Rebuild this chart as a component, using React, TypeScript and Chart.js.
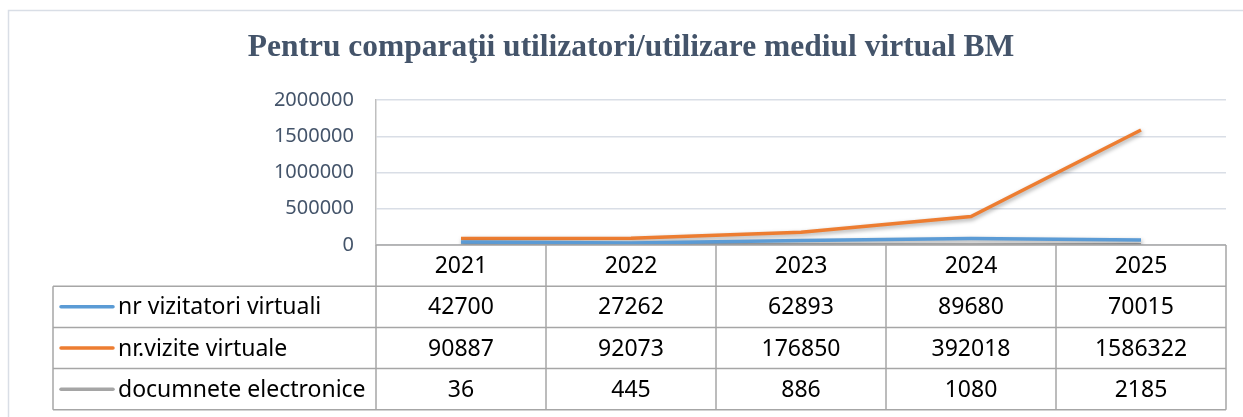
import React, { useEffect, useRef } from "react";
import { Chart, registerables } from "chart.js";

Chart.register(...registerables);

const TITLE = "Pentru comparaţii utilizatori/utilizare mediul virtual BM";
const YEARS = ["2021", "2022", "2023", "2024", "2025"];
const VIZITATORI = [42700, 27262, 62893, 89680, 70015];
const VIZITE = [90887, 92073, 176850, 392018, 1586322];
const DOCUMENTE = [36, 445, 886, 1080, 2185];
const SERIES_NAMES = ["nr vizitatori virtuali", "nr.vizite virtuale", "documnete electronice"];
const COLORS = ["#5b9bd5", "#ed7d31", "#a5a5a5"];
const Y_MAX = 2000000;
const Y_STEP = 500000;

const FONT = "'Noto Sans', 'Open Sans', 'Liberation Sans', sans-serif";

export default function App() {
  const ref = useRef<HTMLCanvasElement | null>(null);

  useEffect(() => {
    document.body.style.margin = "0";
    const canvas = ref.current!;
    const series = [VIZITATORI, VIZITE, DOCUMENTE];

    const shadowPlugin = {
      id: "shadow",
      beforeDatasetDraw(chart: any) {
        const c = chart.ctx;
        c.save();
        c.shadowColor = "rgba(0,0,0,0.35)";
        c.shadowBlur = 4;
        c.shadowOffsetX = 1;
        c.shadowOffsetY = 2;
      },
      afterDatasetDraw(chart: any) {
        chart.ctx.restore();
      },
    };

    const decorPlugin = {
      id: "decor",
      beforeDraw(chart: any) {
        const c = chart.ctx;
        c.save();
        c.fillStyle = "#ffffff";
        c.fillRect(0, 0, chart.width, chart.height);
        // outer frame
        c.strokeStyle = "#d9dee6";
        c.lineWidth = 1.5;
        c.beginPath();
        c.moveTo(8.5, chart.height + 2);
        c.lineTo(8.5, 10.5);
        c.lineTo(chart.width + 2, 10.5);
        c.stroke();
        // title
        c.fillStyle = "#44546a";
        c.font = "bold 31.5px 'Liberation Serif', 'Times New Roman', serif";
        c.textAlign = "center";
        c.textBaseline = "alphabetic";
        c.fillText(TITLE, 631, 56);
        c.restore();
      },
      afterDraw(chart: any) {
        const c = chart.ctx;
        const xs = chart.scales.x;
        const area = chart.chartArea;
        const left = area.left;
        const right = area.right;
        const n = YEARS.length;
        const colW = (right - left) / n;
        const top = area.bottom;
        const rowH = 41.2;
        const legLeft = 53;
        c.save();
        c.strokeStyle = "#a6a6a6";
        c.lineWidth = 1.5;
        // horizontal lines
        c.beginPath();
        c.moveTo(left, top);
        c.lineTo(right, top);
        for (let r = 1; r <= 4; r++) {
          const y = top + r * rowH;
          c.moveTo(legLeft, y);
          c.lineTo(right, y);
        }
        // vertical lines
        c.moveTo(legLeft, top + rowH);
        c.lineTo(legLeft, top + 4 * rowH);
        for (let i = 0; i <= n; i++) {
          const x = left + i * colW;
          c.moveTo(x, top);
          c.lineTo(x, top + 4 * rowH);
        }
        c.stroke();
        // text
        c.fillStyle = "#000000";
        c.font = `23px ${FONT}`;
        c.textBaseline = "middle";
        c.textAlign = "center";
        YEARS.forEach((yr, i) => {
          const x = xs.getPixelForValue(i);
          c.fillText(yr, x, top + rowH / 2 + 1);
          series.forEach((s, r) => {
            c.fillText(String(s[i]), x, top + (r + 1.5) * rowH + 1);
          });
        });
        // legend column
        c.textAlign = "left";
        SERIES_NAMES.forEach((name, r) => {
          const y = top + (r + 1.5) * rowH;
          c.strokeStyle = COLORS[r];
          c.lineWidth = 3.5;
          c.lineCap = "round";
          c.beginPath();
          c.moveTo(61, y);
          c.lineTo(113, y);
          c.stroke();
          c.fillStyle = "#000000";
          c.fillText(name, 118, y + 1);
        });
        c.restore();
      },
    };

    const chart = new Chart(canvas, {
      type: "line",
      data: {
        labels: YEARS,
        datasets: [
          { label: SERIES_NAMES[0], data: VIZITATORI, borderColor: COLORS[0], backgroundColor: COLORS[0], borderWidth: 3.5, pointRadius: 0, tension: 0 },
          { label: SERIES_NAMES[1], data: VIZITE, borderColor: COLORS[1], backgroundColor: COLORS[1], borderWidth: 3.5, pointRadius: 0, tension: 0 },
          { label: SERIES_NAMES[2], data: DOCUMENTE, borderColor: COLORS[2], backgroundColor: COLORS[2], borderWidth: 3.5, pointRadius: 0, tension: 0 },
        ],
      },
      options: {
        responsive: false,
        animation: false,
        layout: { padding: { left: 0, top: 100, right: 17, bottom: 172 } },
        plugins: {
          legend: { display: false },
          title: { display: false },
          tooltip: { enabled: false },
        },
        scales: {
          x: {
            type: "category",
            offset: true,
            display: false,
          },
          y: {
            min: 0,
            max: Y_MAX,
            ticks: {
              stepSize: Y_STEP,
              color: "#44546a",
              font: { family: FONT, size: 20 },
              padding: 22,
              callback: (v: any) => String(v),
            },
            grid: { color: "#d9dee6", lineWidth: 1.5, drawTicks: false },
            border: { display: true, color: "#bfbfbf", width: 1.5 },
            afterFit(scale: any) {
              scale.width = 376;
            },
          },
        },
      },
      plugins: [decorPlugin, shadowPlugin],
    });
    return () => chart.destroy();
  }, []);

  return (
    <div style={{ position: "absolute", left: 0, top: 0, width: 1243, height: 417 }}>
      <canvas ref={ref} width={1243} height={417} />
    </div>
  );
}
